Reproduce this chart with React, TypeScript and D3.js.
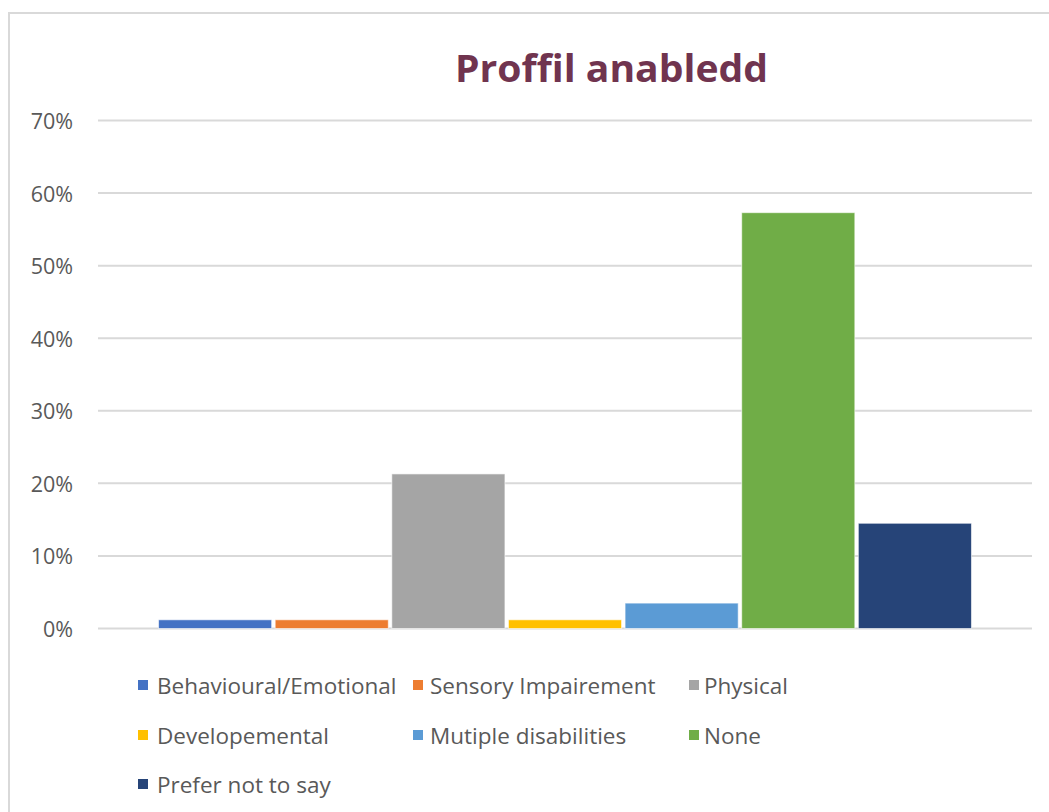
import React from "react";
import * as d3 from "d3";

const categories = [
  "Behavioural/Emotional",
  "Sensory Impairement",
  "Physical",
  "Developemental",
  "Mutiple disabilities",
  "None",
  "Prefer not to say",
];
const values = [0.012, 0.012, 0.213, 0.012, 0.035, 0.573, 0.145];
const colors = ["#4472C4", "#ED7D31", "#A5A5A5", "#FFC000", "#5B9BD5", "#70AD47", "#264478"];
const yTicks = [0, 0.1, 0.2, 0.3, 0.4, 0.5, 0.6, 0.7];
const title = "Proffil anabledd";

const W = 1049;
const H = 812;
const plotLeft = 98;
const plotRight = 1032;
const plotTop = 120.5;
const plotBottom = 628.5;

export default function App() {
  const y = d3.scaleLinear().domain([0, 0.7]).range([plotBottom, plotTop]);
  const x = d3
    .scaleBand<string>()
    .domain(categories)
    .range([plotLeft, plotRight])
    .paddingInner(0.03)
    .paddingOuter(0.519);
  const fmt = d3.format(".0%");

  const markerCols = [138, 413, 689];
  const textCols = [157, 430, 704];
  const legendRows = [685, 735, 784];
  const legendPos = [
    [0, 0],
    [1, 0],
    [2, 0],
    [0, 1],
    [1, 1],
    [2, 1],
    [0, 2],
  ];

  return (
    <div style={{ position: "fixed", left: 0, top: 0 }}>
      <svg width={W} height={H} style={{ display: "block", background: "#fff" }}>
        <rect x={9} y={13} width={1200} height={900} fill="#fff" stroke="#d9d9d9" strokeWidth={2} />
        <text
          x={611.5}
          y={67}
          textAnchor="middle"
          dominantBaseline="central"
          fill="#70344f"
          fontFamily="'Open Sans', sans-serif"
          fontWeight={700}
          fontSize={37}
          textLength={313}
          lengthAdjust="spacingAndGlyphs"
        >
          {title}
        </text>
        {yTicks.map((t) => (
          <g key={t}>
            <line x1={plotLeft} x2={plotRight} y1={y(t)} y2={y(t)} stroke="#d9d9d9" strokeWidth={2} />
            <text
              x={73}
              y={y(t)}
              textAnchor="end"
              dominantBaseline="central"
              fill="#595959"
              fontFamily="'Open Sans', sans-serif"
              fontSize={21.5}
            >
              {fmt(t)}
            </text>
          </g>
        ))}
        {categories.map((c, i) => (
          <rect
            key={c}
            x={x(c)!}
            y={y(values[i])}
            width={x.bandwidth()}
            height={y(0) - y(values[i])}
            fill={colors[i]}
            stroke="#ffffff"
            strokeOpacity={0.6}
            strokeWidth={1}
          />
        ))}
        {categories.map((c, i) => {
          const [col, row] = legendPos[i];
          const ly = legendRows[row];
          return (
            <g key={"lg" + c}>
              <rect x={markerCols[col]} y={ly - 5} width={10} height={10} fill={colors[i]} />
              <text
                x={textCols[col]}
                y={ly}
                dominantBaseline="central"
                fill="#595959"
                fontFamily="'Open Sans', sans-serif"
                fontSize={22.5}
              >
                {c}
              </text>
            </g>
          );
        })}
      </svg>
    </div>
  );
}
